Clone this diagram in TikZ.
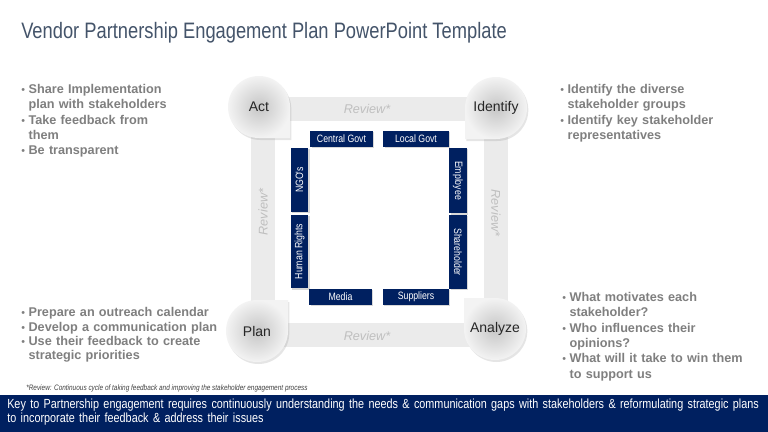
\documentclass[tikz,border=0pt]{standalone}
\usepackage{fontspec}
\setmainfont{Liberation Sans}
\newfontfamily\narrowfont[FakeStretch=0.82]{Liberation Sans}
\usepackage{xcolor}
\definecolor{vnavy}{HTML}{002060}
\definecolor{vtitle}{HTML}{44546A}
\definecolor{vgray}{HTML}{7F7F7F}
\definecolor{vband}{HTML}{EBEBEB}
\definecolor{vreview}{HTML}{BFBFBF}
\definecolor{vblobin}{HTML}{C6C6C6}
\definecolor{vblobout}{HTML}{F3F3F3}
\usetikzlibrary{positioning,shadows}
\newcommand\bitem{\par\noindent\hangindent=5.5pt\hangafter=1\makebox[5.5pt][l]{\mdseries\fontsize{8}{8}\selectfont\textbullet}}

\begin{document}
\begin{tikzpicture}[x=0.75pt,y=0.75pt,
  hbox/.style={rectangle,fill=vnavy,text=white,font=\narrowfont\fontsize{8}{9}\selectfont,inner sep=0pt,minimum height=12pt,drop shadow={shadow xshift=1pt,shadow yshift=-1pt,opacity=0.3}},
  vbox/.style={hbox,minimum height=13pt},
  band/.style={draw=vband,line width=18pt},
  blob/.style={inner color=vblobin,outer color=vblobout,drop shadow={shadow xshift=1pt,shadow yshift=-1.5pt,opacity=0.2}},
  blobtxt/.style={text=black!85,font=\fontsize{10.5}{12}\selectfont,inner sep=0pt},
  review/.style={text=vreview,font=\itshape\fontsize{9.5}{11}\selectfont,inner sep=0pt},
  note/.style={text=vgray,font=\bfseries\fontsize{9.5}{11.5}\selectfont,text width=150pt,inner sep=0pt,align=left,anchor=north west},
  bartext/.style={text=white,font=\narrowfont\fontsize{9.9}{10.5}\selectfont,text width=575pt,inner sep=0pt,align=left,anchor=north west}]
\useasboundingbox[fill=white] (0,0) rectangle (768,-432);
\node[anchor=west,text=vtitle,font=\narrowfont\fontsize{16.75}{19}\selectfont,inner sep=0pt] (title) at (21,-33) {Vendor Partnership Engagement Plan PowerPoint Template};
\draw[band] (263,-108.5) rectangle (495.5,-335);
\foreach \cx/\cy/\ang/\txt in {259/107/-45/Act,496/108/-135/Identify,257/331/45/Plan,495/329/135/Analyze}{
  \shade[blob] (\cx,-\cy) ++(\ang+45:23.25pt) -- ++(\ang-45:23.25pt) -- ++(\ang+225:23.25pt) arc[start angle=\ang-45,delta angle=-270,radius=23.25pt] -- cycle;
  \node[blobtxt] (\txt) at (\cx,-\cy) {\txt};
}
\node[review] (rtop) at (367,-109) {Review*};
\node[review] (rbot) at (367,-336) {Review*};
\node[review,rotate=90] (rleft) at (263,-212) {Review*};
\node[review,rotate=-90] (rright) at (496,-213) {Review*};
\node[hbox,minimum width=47pt] (cgovt) at (341.5,-139) {Central Govt};
\node[hbox,minimum width=49pt,right=7.5pt of cgovt] (lgovt) {Local Govt};
\node[vbox,rotate=90,minimum width=48pt] (ngo) at (299.5,-180) {NGO's};
\node[vbox,rotate=90,minimum width=55pt] (hrights) at (299.5,-251.5) {Human Rights};
\node[vbox,rotate=-90,minimum width=49pt] (employee) at (458,-180.5) {Employee};
\node[vbox,rotate=-90,minimum width=55.5pt] (sholder) at (458,-252) {Shareholder};
\node[hbox,minimum width=47pt] (media) at (340.5,-297) {Media};
\node[hbox,minimum width=49.5pt,right=8pt of media] (suppliers) {Suppliers};
\node[note] (actnote) at (21,-78) {\bitem Share Implementation\newline plan with stakeholders\bitem Take feedback from\newline them\bitem Be transparent\par};
\node[note] (idnote) at (560,-78) {\bitem Identify the diverse\newline stakeholder groups\bitem Identify key stakeholder\newline representatives\par};
\node[note,font=\bfseries\fontsize{9.5}{10.8}\selectfont] (plannote) at (21,-302) {\bitem Prepare an outreach calendar\bitem Develop a communication plan\bitem Use their feedback to create\newline strategic priorities\par};
\node[note] (annote) at (562,-286) {\bitem What motivates each\newline stakeholder?\bitem Who influences their\newline opinions?\bitem What will it take to win them\newline to support us\par};
\node[anchor=west,text=black!75,font=\narrowfont\itshape\fontsize{5.9}{6.5}\selectfont,inner sep=0pt] (fnote) at (26,-388) {*Review: Continuous cycle of taking feedback and improving the stakeholder engagement process};
\fill[vnavy] (0,-395) rectangle (768,-432);
\node[bartext] (key) at (7,-399) {Key to Partnership engagement requires continuously understanding the needs \& communication gaps with stakeholders \& reformulating strategic plans\newline to incorporate their feedback \& address their issues};
\end{tikzpicture}
\end{document}
